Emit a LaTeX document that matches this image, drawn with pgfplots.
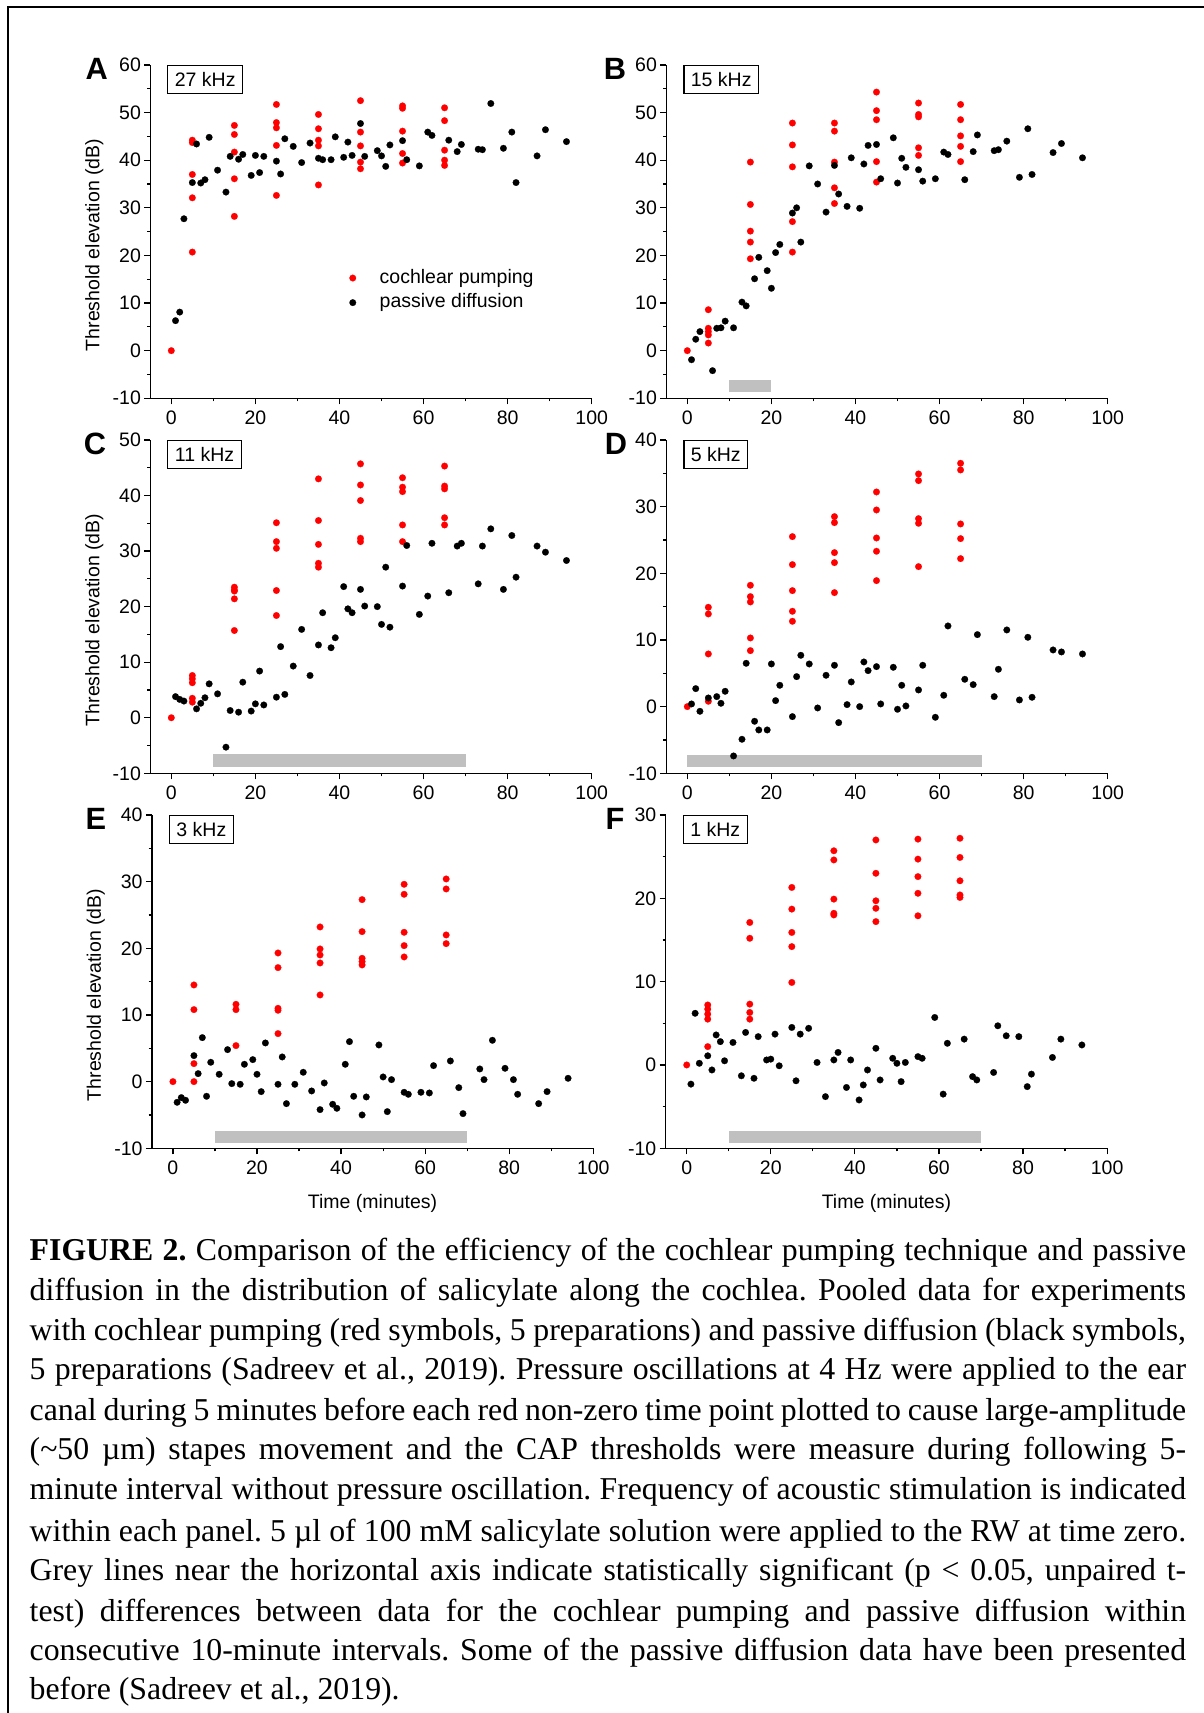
\documentclass[border=0pt]{standalone}
\usepackage{fontspec}
\setmainfont{Liberation Sans}
\newfontfamily\capfont{Liberation Serif}
\usepackage{pgfplots}
\pgfplotsset{compat=1.18}
\definecolor{barGray}{RGB}{192,192,192}
\newcommand{\cf}{\fontsize{9.75pt}{11.7pt}\selectfont}
\newcommand{\capsize}{\capfont\fontsize{15.9pt}{18pt}\selectfont\frenchspacing}
\pgfplotsset{
  panel/.style={
    scale only axis, width=220.7pt, height=166.67pt,
    anchor=south west, clip=false,
    axis lines=left, axis line style={-, line width=0.6pt},
    xmin=-5, xmax=100, xtick={0,20,40,60,80,100},
    minor x tick num=1, minor y tick num=1,
    tick align=outside, major tick length=3pt, minor tick length=1.6pt,
    tick style={line width=0.6pt, black},
    tick label style={font=\cf},
    label style={font=\cf},
    yticklabel style={inner xsep=1.5pt},
    /pgf/number format/assume math mode=true,
    ylabel style={at={(rel axis cs:-0.127,0.46)}, anchor=center},
    xlabel style={at={(rel axis cs:0.5,0)}, anchor=north, yshift=-19.6pt},
  },
  redpts/.style={only marks, mark=*, mark size=1.65pt, red, mark options={solid, draw=red, fill=red, line width=0.1pt}},
  blkpts/.style={only marks, mark=*, mark size=1.65pt, black, mark options={solid, draw=black, fill=black, line width=0.1pt}},
  sigbar/.style={fill=barGray, draw=none, forget plot},
}
\tikzset{
  kbox/.style={draw, line width=0.6pt, anchor=north west, inner xsep=3.5pt, inner ysep=0pt, minimum height=14.15pt, font=\cf, fill=white},
  plet/.style={font=\bfseries\fontsize{15.4pt}{18pt}\selectfont, anchor=center, inner sep=0pt},
  capline/.style={anchor=base west, inner sep=0pt, font=\capsize},
}
\begin{document}
\begin{tikzpicture}
\useasboundingbox (0,0) rectangle (602pt,856.5pt);
\draw[line width=1pt] (4pt,0) -- (4pt,853pt) -- (602pt,853pt);

% ---------------- A ----------------
\begin{axis}[panel, at={(75.15pt,657.35pt)}, ymin=-10, ymax=60, ytick={-10,0,...,60},
  ylabel={Threshold elevation (dB)},
  legend style={at={(0.4503,0.3889)}, anchor=north west, draw=none, fill=none, inner sep=0pt,
    row sep=3.3pt, column sep=11.8pt, font=\cf,
    nodes={inner sep=0pt, text height=7pt, text depth=2pt}, cells={anchor=west}},
  legend image code/.code={\draw[#1] plot coordinates {(0pt,0pt)};}]
\addplot[redpts] coordinates {(0,0) (5,44.2) (5,43.7) (5,37.0) (5,32.1) (5,20.7) (15,47.3) (15,45.4) (15,41.7) (15,36.1) (15,28.2) (25,51.7) (25,47.9) (25,46.8) (25,43.1) (25,32.6) (35,49.6) (35,46.6) (35,44.2) (35,43.0) (35,34.8) (45,52.5) (45,45.9) (45,43.0) (45,39.6) (45,38.2) (55,51.4) (55,50.9) (55,46.1) (55,41.4) (55,39.4) (65,51.0) (65,48.3) (65,42.1) (65,40.0) (65,38.9)};
\addlegendentry{cochlear pumping}
\addplot[blkpts] coordinates {(1,6.3) (2,8.1) (3,27.7) (5,35.3) (6,43.4) (7,35.2) (8,35.9) (9,44.8) (11,37.9) (13,33.3) (14,40.8) (16,40.2) (17,41.2) (19,36.8) (20,41.0) (21,37.4) (22,40.8) (25,39.8) (26,37.1) (27,44.5) (29,42.9) (31,39.5) (33,43.6) (35,40.4) (36,40.1) (38,40.1) (39,44.9) (41,40.6) (42,43.8) (43,41.0) (45,47.7) (46,40.8) (49,42.0) (50,40.9) (51,38.7) (52,43.2) (55,44.1) (56,40.1) (59,38.8) (61,45.9) (62,45.2) (66,44.2) (68,41.8) (69,43.3) (73,42.3) (74,42.2) (76,51.9) (79,42.5) (81,45.9) (82,35.3) (87,40.9) (89,46.4) (94,43.9)};
\addlegendentry{passive diffusion}
\node[kbox] at (rel axis cs:0.0385,1) {27 kHz};
\end{axis}

% ---------------- B ----------------
\begin{axis}[panel, at={(333.15pt,657.35pt)}, ymin=-10, ymax=60, ytick={-10,0,...,60}]
\addplot[redpts] coordinates {(0,0) (5,8.6) (5,4.7) (5,4.0) (5,3.3) (5,1.6) (15,39.6) (15,30.7) (15,25.1) (15,22.8) (15,19.3) (25,47.8) (25,43.2) (25,38.6) (25,27.1) (25,20.7) (35,47.8) (35,46.1) (35,39.6) (35,34.2) (35,30.9) (45,54.3) (45,50.4) (45,48.5) (45,39.7) (45,35.4) (55,52.0) (55,49.6) (55,49.1) (55,42.6) (55,41.0) (65,51.7) (65,48.5) (65,45.1) (65,42.9) (65,39.7)};
\addplot[blkpts] coordinates {(1,-1.9) (2,2.4) (3,4.0) (6,-4.2) (7,4.7) (8,4.8) (9,6.2) (11,4.8) (13,10.2) (14,9.4) (16,15.1) (17,19.6) (19,16.8) (20,13.1) (21,20.6) (22,22.3) (25,28.9) (26,30.0) (27,22.8) (29,38.8) (31,35.0) (33,29.1) (35,38.9) (36,32.9) (38,30.3) (39,40.5) (41,29.9) (42,39.2) (43,43.1) (45,43.3) (46,36.1) (49,44.7) (50,35.2) (51,40.4) (52,38.5) (55,38.0) (56,35.6) (59,36.1) (61,41.7) (62,41.2) (66,35.9) (68,41.8) (69,45.3) (73,42.0) (74,42.2) (76,44.0) (79,36.4) (81,46.6) (82,37.0) (87,41.6) (89,43.5) (94,40.5)};
\addplot[sigbar] coordinates {(10,-8.6) (20,-8.6) (20,-6.15) (10,-6.15)} -- cycle;
\node[kbox] at (rel axis cs:0.0385,1) {15 kHz};
\end{axis}

% ---------------- C ----------------
\begin{axis}[panel, at={(75.15pt,469.85pt)}, ymin=-10, ymax=50, ytick={-10,0,...,50},
  ylabel={Threshold elevation (dB)}]
\addplot[redpts] coordinates {(0,0) (5,7.6) (5,7.0) (5,6.3) (5,3.5) (5,2.8) (15,23.5) (15,23.0) (15,22.8) (15,21.4) (15,15.7) (25,35.1) (25,31.7) (25,30.5) (25,22.9) (25,18.4) (35,43.0) (35,35.5) (35,31.2) (35,27.8) (35,27.1) (45,45.7) (45,41.9) (45,39.1) (45,32.3) (45,31.7) (55,43.2) (55,41.5) (55,40.7) (55,34.7) (55,31.7) (65,45.3) (65,41.7) (65,41.2) (65,36.0) (65,34.7)};
\addplot[blkpts] coordinates {(1,3.8) (2,3.3) (3,3.0) (6,1.6) (7,2.6) (8,3.6) (9,6.1) (11,4.3) (13,-5.3) (14,1.3) (16,1.0) (17,6.4) (19,1.2) (20,2.5) (21,8.4) (22,2.3) (25,3.7) (26,12.8) (27,4.2) (29,9.3) (31,15.9) (33,7.6) (35,13.1) (36,18.9) (38,12.6) (39,14.4) (41,23.6) (42,19.6) (43,18.9) (45,23.1) (46,20.1) (49,20.0) (50,16.8) (51,27.1) (52,16.3) (55,23.7) (56,31.0) (59,18.6) (61,21.9) (62,31.4) (66,22.5) (68,30.9) (69,31.4) (73,24.1) (74,30.9) (76,34.0) (79,23.1) (81,32.8) (82,25.3) (87,30.9) (89,29.8) (94,28.3)};
\addplot[sigbar] coordinates {(10,-8.8) (70,-8.8) (70,-6.6) (10,-6.6)} -- cycle;
\node[kbox] at (rel axis cs:0.0385,1) {11 kHz};
\end{axis}

% ---------------- D ----------------
\begin{axis}[panel, at={(333.15pt,469.85pt)}, ymin=-10, ymax=40, ytick={-10,0,...,40}]
\addplot[redpts] coordinates {(0,0) (5,14.9) (5,13.9) (5,7.9) (5,0.8) (15,18.2) (15,16.5) (15,15.7) (15,10.3) (15,8.4) (25,25.5) (25,21.3) (25,17.4) (25,14.3) (25,12.8) (35,28.5) (35,27.6) (35,23.1) (35,21.6) (35,17.1) (45,32.2) (45,29.5) (45,25.3) (45,23.3) (45,18.9) (55,34.9) (55,33.9) (55,28.2) (55,27.5) (55,21.0) (65,36.5) (65,35.5) (65,27.4) (65,25.2) (65,22.2)};
\addplot[blkpts] coordinates {(1,0.4) (2,2.7) (3,-0.7) (5,1.3) (7,1.5) (8,0.5) (9,2.3) (11,-7.4) (13,-4.9) (14,6.5) (16,-2.2) (17,-3.5) (19,-3.5) (20,6.4) (21,0.9) (22,3.2) (25,-1.5) (26,4.5) (27,7.7) (29,6.4) (31,-0.2) (33,4.7) (35,6.2) (36,-2.4) (38,0.3) (39,3.7) (41,0.0) (42,6.7) (43,5.4) (45,6.0) (46,0.4) (49,5.9) (50,-0.4) (51,3.2) (52,0.1) (55,2.5) (56,6.2) (59,-1.6) (61,1.7) (62,12.1) (66,4.1) (68,3.3) (69,10.8) (73,1.5) (74,5.6) (76,11.5) (79,1.0) (81,10.4) (82,1.4) (87,8.5) (89,8.2) (94,7.9)};
\addplot[sigbar] coordinates {(0,-9.0) (70,-9.0) (70,-7.25) (0,-7.25)} -- cycle;
\node[kbox] at (rel axis cs:0.0385,1) {5 kHz};
\end{axis}

% ---------------- E ----------------
\begin{axis}[panel, at={(75.95pt,282.35pt)}, ymin=-10, ymax=40, ytick={-10,0,...,40},
  ylabel={Threshold elevation (dB)}, xlabel={Time (minutes)}]
\addplot[redpts] coordinates {(0,0) (5,14.5) (5,10.8) (5,2.7) (5,0) (15,11.6) (15,10.8) (15,5.4) (25,19.3) (25,17.1) (25,11.0) (25,10.7) (25,7.2) (35,23.2) (35,19.9) (35,19.0) (35,17.8) (35,13.0) (45,27.3) (45,22.5) (45,18.5) (45,18.0) (45,17.5) (55,29.6) (55,28.1) (55,22.4) (55,20.4) (55,18.7) (65,30.4) (65,28.9) (65,22.0) (65,20.7)};
\addplot[blkpts] coordinates {(1,-3.1) (2,-2.4) (3,-2.8) (5,3.9) (6,1.2) (7,6.6) (8,-2.2) (9,2.9) (11,1.1) (13,4.8) (14,-0.3) (16,-0.4) (17,2.6) (19,3.3) (20,1.1) (21,-1.5) (22,5.8) (25,-0.4) (26,3.7) (27,-3.3) (29,-0.4) (31,1.4) (33,-1.4) (35,-4.2) (36,-0.2) (38,-3.4) (39,-4.0) (41,2.6) (42,6.0) (43,-2.2) (45,-5.0) (46,-2.3) (49,5.5) (50,0.7) (51,-4.5) (52,0.3) (55,-1.6) (56,-1.9) (59,-1.6) (61,-1.7) (62,2.4) (66,3.1) (68,-0.9) (69,-4.8) (73,1.9) (74,0.3) (76,6.2) (79,2.0) (81,0.3) (82,-1.9) (87,-3.3) (89,-1.5) (94,0.5)};
\addplot[sigbar] coordinates {(10,-9.15) (70,-9.15) (70,-7.4) (10,-7.4)} -- cycle;
\node[kbox] at (rel axis cs:0.0385,1) {3 kHz};
\end{axis}

% ---------------- F ----------------
\begin{axis}[panel, at={(332.85pt,282.35pt)}, ymin=-10, ymax=30, ytick={-10,0,...,30},
  xlabel={Time (minutes)}]
\addplot[redpts] coordinates {(0,0) (5,7.2) (5,6.7) (5,6.1) (5,5.5) (5,2.2) (15,17.1) (15,15.2) (15,7.3) (15,6.3) (15,5.5) (25,21.3) (25,18.7) (25,15.9) (25,14.2) (25,9.9) (35,25.7) (35,24.6) (35,19.9) (35,18.2) (35,18.0) (45,27.0) (45,23.0) (45,19.7) (45,18.8) (45,17.2) (55,27.1) (55,24.7) (55,22.6) (55,20.6) (55,17.9) (65,27.2) (65,24.9) (65,22.1) (65,20.4) (65,20.1)};
\addplot[blkpts] coordinates {(1,-2.3) (2,6.2) (3,0.2) (5,1.1) (6,-0.6) (7,3.6) (8,2.8) (9,0.5) (11,2.7) (13,-1.3) (14,3.9) (16,-1.6) (17,3.4) (19,0.6) (20,0.7) (21,3.7) (22,-0.1) (25,4.5) (26,-1.9) (27,3.7) (29,4.4) (31,0.3) (33,-3.8) (35,0.6) (36,1.5) (38,-2.7) (39,0.6) (41,-4.2) (42,-2.4) (43,-0.6) (45,2.0) (46,-1.8) (49,0.8) (50,0.2) (51,-2.0) (52,0.3) (55,1.0) (56,0.8) (59,5.7) (61,-3.5) (62,2.6) (66,3.1) (68,-1.4) (69,-1.8) (73,-0.9) (74,4.7) (76,3.5) (79,3.4) (81,-2.6) (82,-1.1) (87,0.9) (89,3.1) (94,2.4)};
\addplot[sigbar] coordinates {(10,-9.32) (70,-9.32) (70,-7.88) (10,-7.88)} -- cycle;
\node[kbox] at (rel axis cs:0.0385,1) {1 kHz};
\end{axis}

% panel letters
\node[plet] at (48.35pt,822pt) {A};
\node[plet] at (307.5pt,822pt) {B};
\node[plet] at (47.5pt,634.5pt) {C};
\node[plet] at (308pt,634.5pt) {D};
\node[plet] at (48pt,447pt) {E};
\node[plet] at (307.5pt,447pt) {F};

% caption
\node[capline] at (14.65pt,226.15pt) {\makebox[578.2pt][s]{\textbf{FIGURE 2.} Comparison of the efficiency of the cochlear pumping technique and passive}};
\node[capline] at (14.65pt,206.0pt) {\makebox[578.2pt][s]{diffusion in the distribution of salicylate along the cochlea. Pooled data for experiments}};
\node[capline] at (14.65pt,186.3pt) {\makebox[578.2pt][s]{with cochlear pumping (red symbols, 5 preparations) and passive diffusion (black symbols,}};
\node[capline] at (14.65pt,166.6pt) {\makebox[578.2pt][s]{5 preparations (Sadreev et al., 2019). Pressure oscillations at 4 Hz were applied to the ear}};
\node[capline] at (14.65pt,146.4pt) {\makebox[578.2pt][s]{canal during 5 minutes before each red non-zero time point plotted to cause large-amplitude}};
\node[capline] at (14.65pt,126.75pt) {\makebox[578.2pt][s]{(\textasciitilde50 µm) stapes movement and the CAP thresholds were measure during following 5-}};
\node[capline] at (14.65pt,106.5pt) {\makebox[578.2pt][s]{minute interval without pressure oscillation. Frequency of acoustic stimulation is indicated}};
\node[capline] at (14.65pt,85.75pt) {\makebox[578.2pt][s]{within each panel. 5 µl of 100 mM salicylate solution were applied to the RW at time zero.}};
\node[capline] at (14.65pt,66.05pt) {\makebox[578.2pt][s]{Grey lines near the horizontal axis indicate statistically significant (p < 0.05, unpaired t-}};
\node[capline] at (14.65pt,45.85pt) {\makebox[578.2pt][s]{test) differences between data for the cochlear pumping and passive diffusion within}};
\node[capline] at (14.65pt,26.2pt) {\makebox[578.2pt][s]{consecutive 10-minute intervals. Some of the passive diffusion data have been presented}};
\node[capline] at (14.65pt,6.5pt) {before (Sadreev et al., 2019).};
\end{tikzpicture}
\end{document}
